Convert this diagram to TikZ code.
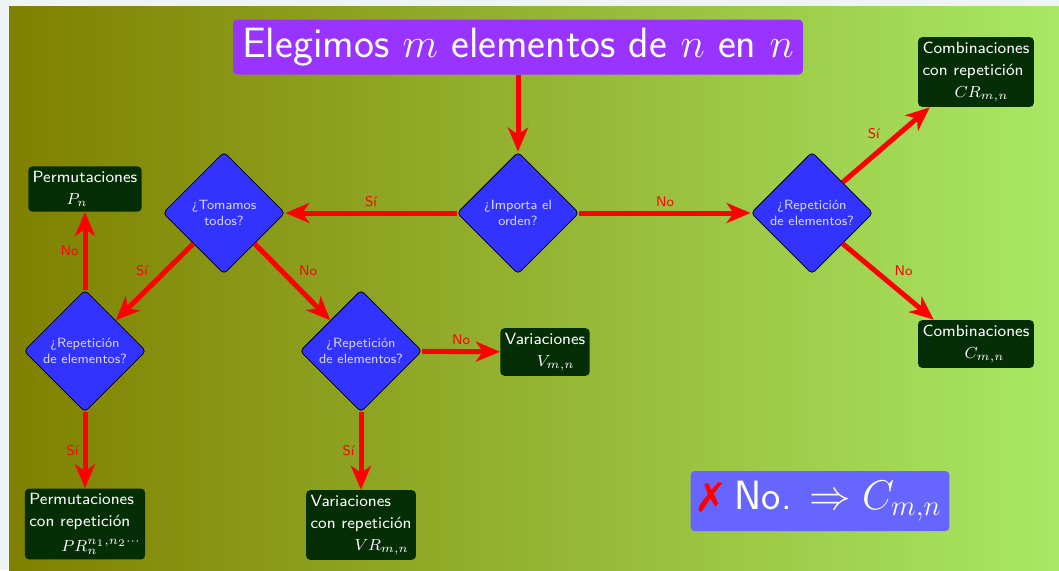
\documentclass[tikz,border=0pt]{standalone}
\usepackage{amssymb}
\usepackage{amsmath}
\usepackage{fontspec}
\usepackage{pifont}
\usepackage{tikz}
\usetikzlibrary{shapes.geometric,arrows.meta}

\definecolor{fondo}{RGB}{238,244,244}
\definecolor{oliva}{RGB}{128,128,0}
\definecolor{verdemed}{RGB}{148,182,0}
\definecolor{verdeclaro}{RGB}{168,232,100}
\definecolor{morado}{RGB}{153,51,255}
\definecolor{azuldec}{RGB}{51,51,255}
\definecolor{lavanda}{RGB}{215,215,255}
\definecolor{verdeosc}{RGB}{6,46,6}
\definecolor{azulnota}{RGB}{102,102,255}

\begin{document}
\begin{tikzpicture}[x=0.5pt, y=-0.5pt, font=\sffamily,
  dec/.style = {diamond, draw=black, fill=azuldec, text=lavanda, rounded corners=2pt,
    minimum width=61pt, minimum height=61pt, inner sep=0pt, align=center,
    font=\sffamily\fontsize{6.7}{8.4}\selectfont},
  res/.style = {fill=verdeosc, text=white, rounded corners=2pt, align=left,
    inner xsep=2.2pt, inner ysep=2.5pt, font=\sffamily\fontsize{8.1}{11}\selectfont},
  flecha/.style = {red, line width=2.5pt, -{Stealth[length=12pt, width=10pt, inset=3.5pt]}},
  etiq/.style = {red, font=\sffamily\fontsize{7}{8}\selectfont, inner sep=2pt}]

% fondo
\fill[fondo] (0,0) rectangle (1059,570);
\shade[left color=oliva, middle color=verdemed, right color=verdeclaro] (9,6) rectangle (1059,570);

% titulo
\node[fill=morado, text=white, rounded corners=2pt, minimum height=27.5pt, inner xsep=4.5pt,
  inner ysep=2pt, font=\sffamily\fontsize{21.2}{23}\selectfont] (tit) at (518,47)
  {Elegimos $m$ elementos de $n$ en $n$};

% preguntas
\node[dec] (imp) at (518,213) {¿Importa el\\orden?};
\node[dec] (tom) at (224,213) {¿Tomamos\\todos?};
\node[dec] (rtr) at (812,213) {¿Repetición\\de elementos?};
\node[dec] (rl) at (85,351) {¿Repetición\\de elementos?};
\node[dec] (rm) at (361,351) {¿Repetición\\de elementos?};

% resultados
\node[res] (pn) at (85,189) {Permutaciones\\\hspace*{17pt}$P_n$};
\node[res] (pr) at (85,524) {Permutaciones\\con repetición\\[1.5pt]\hspace*{16pt}$PR_n^{n_1,n_2\cdots}$};
\node[res] (vr) at (361,525) {Variaciones\\con repetición\\\hspace*{22pt}$VR_{m,n}$};
\node[res] (v) at (545,352) {Variaciones\\\hspace*{16pt}$V_{m,n}$};
\node[res] (cr) at (976,72) {Combinaciones\\con repetición\\\hspace*{16pt}$CR_{m,n}$};
\node[res] (c) at (976,344) {Combinaciones\\\hspace*{21pt}$C_{m,n}$};

% nota
\node[fill=azulnota, text=white, rounded corners=2pt, minimum height=30pt, inner xsep=4pt,
  font=\sffamily\fontsize{20.5}{22}\selectfont] (nota) at (820,501)
  {\textcolor{red}{\ding{55}} No. $\Rightarrow C_{m,n}$};

% flechas
\draw[flecha] (tit) -- (imp);
\draw[flecha] (imp) -- node[etiq, above] {Sí} (tom);
\draw[flecha] (imp) -- node[etiq, above] {No} (rtr);
\draw[flecha] (tom.south west) -- node[etiq, above left] {Sí} (rl.north east);
\draw[flecha] (tom.south east) -- node[etiq, above right] {No} (rm.north west);
\draw[flecha] (rl) -- node[etiq, left] {No} (pn);
\draw[flecha] (rl) -- node[etiq, left] {Sí} (pr);
\draw[flecha] (rm) -- node[etiq, above] {No} (v);
\draw[flecha] (rm) -- node[etiq, left] {Sí} (vr);
\draw[flecha] (rtr.north east) -- node[etiq, above left] {Sí} ([xshift=6pt]cr.south west);
\draw[flecha] (rtr.south east) -- node[etiq, above right] {No} ([xshift=8pt]c.north west);
\end{tikzpicture}
\end{document}
